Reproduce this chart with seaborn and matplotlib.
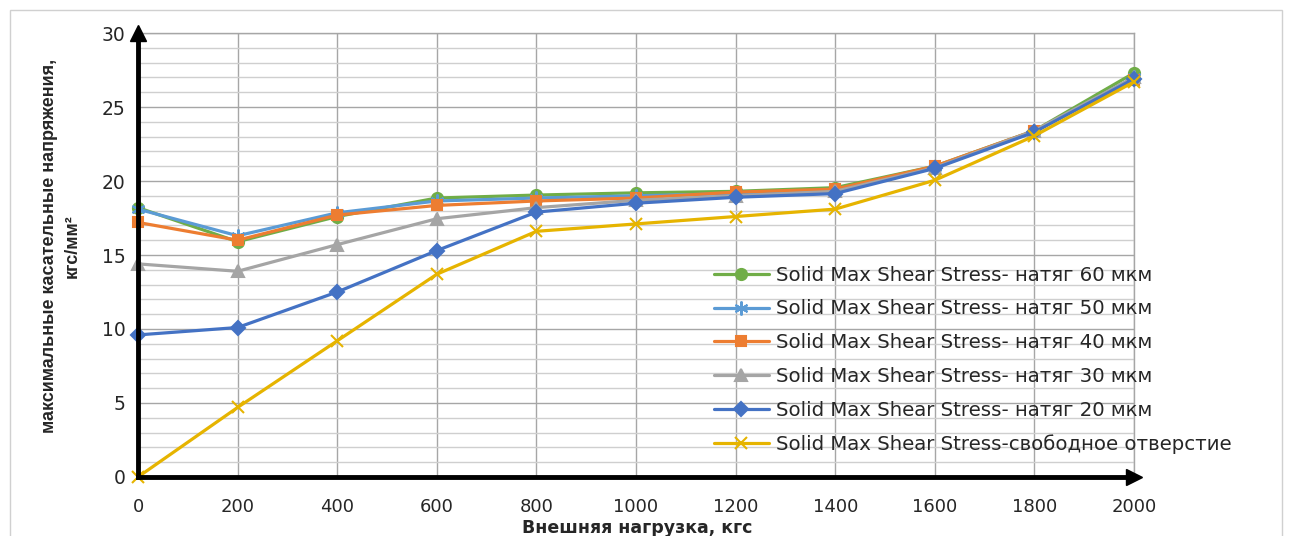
import matplotlib
matplotlib.use("Agg")
import matplotlib.pyplot as plt
import seaborn as sns
from matplotlib.patches import Rectangle

loads = [0, 200, 400, 600, 800, 1000, 1200, 1400, 1600, 1800, 2000]
s60 = [18.2, 15.9, 17.6, 18.85, 19.05, 19.2, 19.3, 19.55, 21.0, 23.4, 27.3]
s50 = [18.1, 16.3, 17.85, 18.65, 18.85, 19.0, 19.15, 19.35, 20.95, 23.35, 27.0]
s40 = [17.2, 16.0, 17.7, 18.35, 18.65, 18.85, 19.25, 19.45, 21.0, 23.4, 26.8]
s30 = [14.4, 13.9, 15.7, 17.45, 18.2, 18.7, 19.0, 19.3, 20.9, 23.4, 27.0]
s20 = [9.6, 10.1, 12.5, 15.3, 17.9, 18.5, 18.9, 19.15, 20.85, 23.3, 26.9]
sfree = [0.0, 4.7, 9.2, 13.7, 16.6, 17.1, 17.6, 18.1, 20.05, 23.05, 26.7]

labels = [
    "Solid Max Shear Stress- натяг 60 мкм",
    "Solid Max Shear Stress- натяг 50 мкм",
    "Solid Max Shear Stress- натяг 40 мкм",
    "Solid Max Shear Stress- натяг 30 мкм",
    "Solid Max Shear Stress- натяг 20 мкм",
    "Solid Max Shear Stress-свободное отверстие",
]
series = [s60, s50, s40, s30, s20, sfree]
colors = ["#70AD47", "#5B9BD5", "#ED7D31", "#A5A5A5", "#4472C4", "#E6B400"]
markers = ["o", (6, 2, 0), "s", "^", "D", "x"]
msizes = [8, 10, 7.5, 8, 7, 9]

x_label = "Внешняя нагрузка, кгс"
y_label = "максимальные касательные напряжения,\nкгс/мм²"

sns.set_style("white")
plt.rcParams["font.family"] = ["DejaVu Sans"]

fig = plt.figure(figsize=(12.92, 5.36), dpi=100)
ax = fig.add_axes([138 / 1292, 59 / 536, 996 / 1292, 444 / 536])

for vals, lab, col, mk, ms in zip(series, labels, colors, markers, msizes):
    sns.lineplot(x=loads, y=vals, ax=ax, color=col, label=lab, marker=mk,
                 markersize=ms, markeredgecolor=col, markerfacecolor=col,
                 markeredgewidth=1.5, linewidth=2.3, clip_on=False, zorder=3)

ax.set_xlim(0, 2000)
ax.set_ylim(0, 30)
ax.set_xticks(range(0, 2001, 200))
ax.set_yticks(range(0, 31, 5))
ax.set_yticks(range(0, 31), minor=True)
ax.grid(which="major", axis="both", color="#a6a6a6", linewidth=1.0)
ax.grid(which="minor", axis="y", color="#cfcfcf", linewidth=1.0)
ax.set_axisbelow(True)

for side in ["left", "bottom"]:
    ax.spines[side].set_color("black")
    ax.spines[side].set_linewidth(3.5)
    ax.spines[side].set_zorder(4)
for side in ["top", "right"]:
    ax.spines[side].set_color("#a6a6a6")
    ax.spines[side].set_linewidth(1.0)

ax.plot(1, 0, marker=">", color="black", markersize=11, transform=ax.transAxes, clip_on=False, zorder=5)
ax.plot(0, 1, marker="^", color="black", markersize=11, transform=ax.transAxes, clip_on=False, zorder=5)

ax.tick_params(which="major", axis="both", direction="out", length=6, width=3, color="black",
               labelcolor="#262626")
ax.tick_params(which="minor", length=0)
ax.tick_params(axis="x", pad=9, labelsize=13)
ax.tick_params(axis="y", pad=3, labelsize=13.5)

ax.set_xlabel(x_label, fontsize=12.5, fontweight="bold")
ax.xaxis.set_label_coords(0.501, -0.095)
ax.set_ylabel(y_label, fontsize=13, fontweight="bold", family=["Liberation Sans", "DejaVu Sans"],
              linespacing=1.45)
ax.yaxis.set_label_coords(-0.057, 0.52)

leg = ax.legend(loc="center left", bbox_to_anchor=(0.578, 0.2635), frameon=False,
                fontsize=14.2, handlelength=2.8, handletextpad=0.36, labelspacing=0.75,
                borderpad=0, borderaxespad=0)
for t in leg.get_texts():
    t.set_color("#262626")

fig.patches.append(Rectangle((10 / 1292, -0.01), 1272 / 1292, 1 - 10 / 536 + 0.01,
                             transform=fig.transFigure, fill=False, edgecolor="#d0d0d0",
                             linewidth=1.0))

fig.savefig("out.png", dpi=100)
